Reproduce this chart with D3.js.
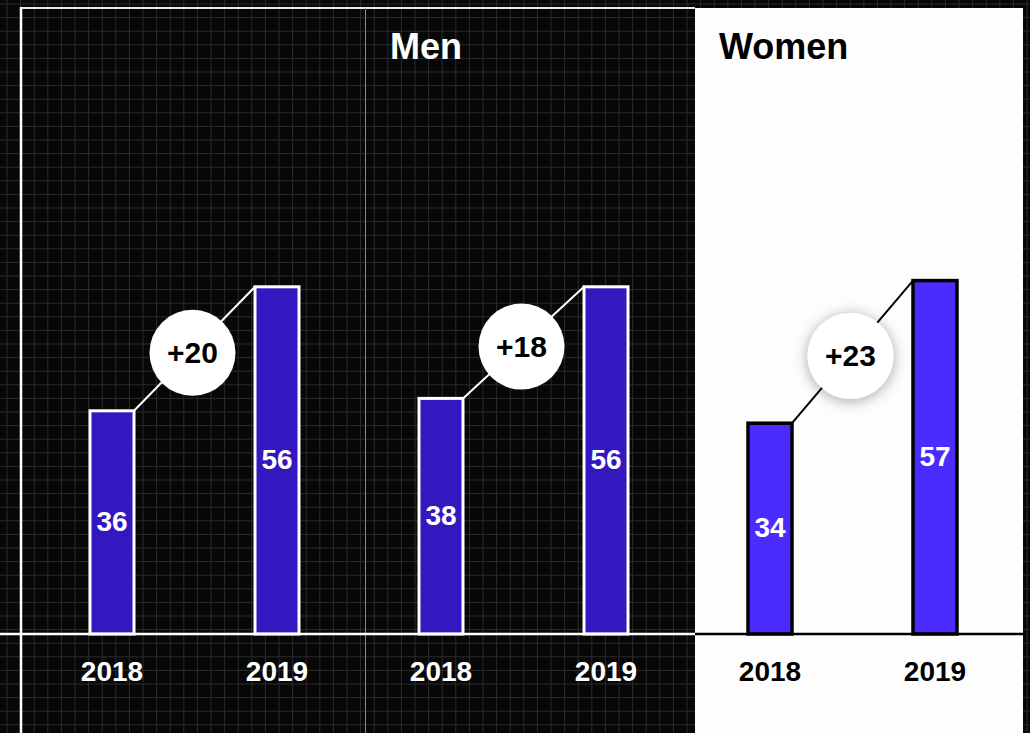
<!DOCTYPE html>
<html>
<head>
<meta charset="utf-8">
<script src="https://cdn.jsdelivr.net/npm/d3@7"></script>
<style>
  html, body { margin: 0; padding: 0; background: #070707; }
  svg { display: block; }
  text { font-family: "Liberation Sans", Arial, Helvetica, sans-serif; font-weight: bold; }
</style>
</head>
<body>
<svg id="chart" width="1030" height="733"></svg>
<script>
// data
const groups = ["", "Men", "Women"];
const years = ["2018", "2019"];
const values2018 = [36, 38, 34];
const values2019 = [56, 56, 57];

const W = 1030, H = 733;
const baseY = 634;

const svg = d3.select('#chart');

// background grid
const bg = svg.append('g');
bg.append('rect').attr('width', W).attr('height', H).attr('fill', '#070707');
const gridStep = 13.6;
bg.selectAll('line.gv')
  .data(d3.range(7, W, gridStep))
  .join('line')
  .attr('class', 'gv')
  .attr('x1', d => d).attr('x2', d => d)
  .attr('y1', 0).attr('y2', H)
  .attr('stroke', '#2c2c2c').attr('stroke-width', 1);
bg.selectAll('line.gh')
  .data(d3.range(4, H, gridStep))
  .join('line')
  .attr('class', 'gh')
  .attr('y1', d => d).attr('y2', d => d)
  .attr('x1', 0).attr('x2', W)
  .attr('stroke', '#2c2c2c').attr('stroke-width', 1);

const defs = svg.append('defs');
const shadow = defs.append('filter').attr('id', 'shadow')
  .attr('x', '-50%').attr('y', '-50%').attr('width', '200%').attr('height', '200%');
shadow.append('feDropShadow')
  .attr('dx', 0).attr('dy', 2).attr('stdDeviation', 7)
  .attr('flood-color', '#000').attr('flood-opacity', 0.35);

// scales
const panel = d3.scaleBand().domain(groups).range([37, 1024]);
const x = d3.scalePoint().domain(years).range([75, 240]);
const y = d3.scaleLinear().domain([0, 100]).range([baseY, 14]);
const barW = 44;

const data = groups.map((g, i) => ({
  group: g,
  light: g === 'Women',
  vals: [values2018[i], values2019[i]]
}));

// women panel background
const wx = panel('Women');
svg.append('rect')
  .attr('x', wx).attr('y', 8)
  .attr('width', panel.step() - 1).attr('height', H)
  .attr('fill', '#fdfdfd');

// frame lines on dark part
svg.append('line')
  .attr('x1', 21).attr('x2', wx).attr('y1', 8).attr('y2', 8)
  .attr('stroke', '#e8e8e8').attr('stroke-width', 2);
svg.append('line')
  .attr('x1', 21).attr('x2', 21).attr('y1', 7).attr('y2', H)
  .attr('stroke', '#fff').attr('stroke-width', 2.5);
svg.append('line')
  .attr('x1', panel('Men') - 0.5).attr('x2', panel('Men') - 0.5).attr('y1', 8).attr('y2', H)
  .attr('stroke', '#8a8a8a').attr('stroke-width', 1);

const g = svg.selectAll('g.panel')
  .data(data)
  .join('g')
  .attr('class', 'panel')
  .attr('transform', d => `translate(${panel(d.group)},0)`);

// title
g.append('text')
  .attr('x', 24).attr('y', 59)
  .attr('font-size', 36)
  .attr('fill', d => d.light ? '#000' : '#fff')
  .text(d => d.group);

// bars
g.selectAll('rect.bar')
  .data(d => d.vals.map((v, j) => ({ year: years[j], v, light: d.light })))
  .join('rect')
  .attr('class', 'bar')
  .attr('x', d => x(d.year) - barW / 2)
  .attr('y', d => y(d.v))
  .attr('width', barW)
  .attr('height', d => baseY - y(d.v))
  .attr('fill', d => d.light ? '#4a2cff' : '#3219bf')
  .attr('stroke', d => d.light ? '#000' : '#fff')
  .attr('stroke-width', d => d.light ? 3.5 : 3);

// value labels
g.selectAll('text.val')
  .data(d => d.vals.map((v, j) => ({ year: years[j], v })))
  .join('text')
  .attr('class', 'val')
  .attr('x', d => x(d.year))
  .attr('y', d => (y(d.v) + baseY) / 2)
  .attr('dy', '0.3em')
  .attr('text-anchor', 'middle')
  .attr('font-size', 28)
  .attr('fill', '#fff')
  .text(d => d.v);

// connector
g.append('line')
  .attr('x1', x(years[0]) + barW / 2)
  .attr('y1', d => y(d.vals[0]))
  .attr('x2', x(years[1]) - barW / 2)
  .attr('y2', d => y(d.vals[1]))
  .attr('stroke', d => d.light ? '#000' : '#fff')
  .attr('stroke-width', 2);

const cx = (x(years[0]) + x(years[1])) / 2 - 2;
const cy = d => (y(d.vals[0]) + y(d.vals[1])) / 2 + 4;

g.append('circle')
  .attr('cx', cx)
  .attr('cy', cy)
  .attr('r', 43)
  .attr('fill', '#fff')
  .attr('filter', d => d.light ? 'url(#shadow)' : null);

g.append('text')
  .attr('x', cx)
  .attr('y', cy)
  .attr('dy', '0.35em')
  .attr('text-anchor', 'middle')
  .attr('font-size', 30)
  .attr('fill', '#000')
  .text(d => '+' + (d.vals[1] - d.vals[0]));

// year labels
g.selectAll('text.year')
  .data(d => years.map(yr => ({ yr, light: d.light })))
  .join('text')
  .attr('class', 'year')
  .attr('x', d => x(d.yr))
  .attr('y', 681)
  .attr('text-anchor', 'middle')
  .attr('font-size', 28)
  .attr('fill', d => d.light ? '#000' : '#fff')
  .text(d => d.yr);

// baselines
svg.append('line')
  .attr('x1', 0).attr('x2', wx).attr('y1', baseY).attr('y2', baseY)
  .attr('stroke', '#fff').attr('stroke-width', 2.5);
svg.append('line')
  .attr('x1', wx).attr('x2', wx + panel.step() - 1).attr('y1', baseY).attr('y2', baseY)
  .attr('stroke', '#000').attr('stroke-width', 2.5);
</script>
</body>
</html>
